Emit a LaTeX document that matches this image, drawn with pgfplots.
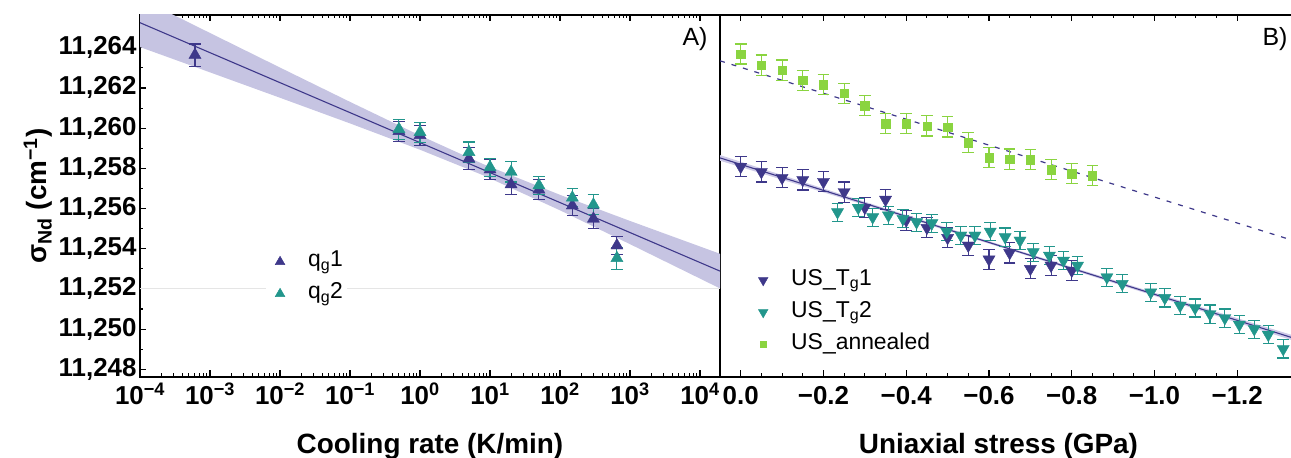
\documentclass[border=0pt]{standalone}
\usepackage{pgfplots}
\usepackage{pgfplotstable}
\pgfplotsset{compat=1.18}
\usepgfplotslibrary{fillbetween}
\usepackage{fontspec}
\setmainfont{Liberation Sans}
\definecolor{cPur}{RGB}{62,56,138}
\definecolor{cTeal}{RGB}{34,150,140}
\definecolor{cGreen}{RGB}{138,212,64}
\definecolor{cBand}{RGB}{198,196,226}
\definecolor{cBandB}{RGB}{206,202,232}

% NOTE: all sigma_Nd values below are stored as (value - 11250) cm^-1
% (avoids TeX floating point precision loss); tick labels show true values.
\pgfplotstableread{
x y e
6.1e-4 13.64 0.55
0.5 9.85 0.5
1 9.65 0.5
5 8.48 0.55
10 7.94 0.5
20 7.20 0.5
50 6.94 0.5
150 6.15 0.5
300 5.49 0.5
650 4.16 0.45
}\qgone
\pgfplotstableread{
x y e
0.5 9.95 0.5
1 9.80 0.5
5 8.81 0.5
10 8.06 0.45
20 7.82 0.5
50 7.15 0.45
150 6.54 0.45
300 6.19 0.5
650 3.53 0.55
}\qgtwo
\pgfplotstableread{
x up lo mid
1e-4 16.461 14.035 15.248
1e-3 14.736 12.776 13.756
1e-2 13.016 11.512 12.264
1e-1 11.308 10.236 10.772
1 9.634 8.926 9.280
7.94 8.216 7.658 7.937
100 6.681 5.911 6.296
1000 5.382 4.226 4.804
19307 3.748 2.024 2.886
}\fitA
\pgfplotstableread{
x y e
0 8.08 0.5
-0.05 7.82 0.5
-0.1 7.53 0.5
-0.15 7.42 0.5
-0.2 7.33 0.5
-0.25 6.82 0.5
-0.3 6.04 0.5
-0.35 6.44 0.5
-0.4 5.41 0.5
-0.45 5.04 0.5
-0.5 4.54 0.5
-0.55 4.16 0.5
-0.6 3.47 0.5
-0.65 3.79 0.5
-0.7 3.00 0.5
-0.75 3.16 0.5
-0.8 2.91 0.5
}\tgone
\pgfplotstableread{
x y e
-0.234 5.82 0.45
-0.284 6.04 0.45
-0.319 5.57 0.45
-0.357 5.66 0.45
-0.392 5.49 0.45
-0.425 5.32 0.45
-0.462 5.27 0.45
-0.498 4.85 0.45
-0.532 4.66 0.45
-0.566 4.66 0.45
-0.603 4.85 0.45
-0.639 4.58 0.45
-0.675 4.41 0.45
-0.707 3.83 0.45
-0.746 3.66 0.45
-0.780 3.41 0.45
-0.814 3.16 0.45
-0.885 2.58 0.45
-0.922 2.25 0.45
-0.991 1.83 0.45
-1.025 1.55 0.45
-1.062 1.17 0.45
-1.098 1.05 0.45
-1.134 0.75 0.45
-1.170 0.55 0.45
-1.205 0.22 0.45
-1.241 0.00 0.45
-1.275 -0.28 0.45
-1.311 -0.99 0.45
}\tgtwo
\pgfplotstableread{
x y e
0 13.69 0.5
-0.05 13.14 0.5
-0.1 12.89 0.5
-0.15 12.39 0.5
-0.2 12.17 0.5
-0.25 11.73 0.5
-0.3 11.11 0.5
-0.35 10.23 0.5
-0.4 10.23 0.5
-0.45 10.11 0.5
-0.5 10.06 0.5
-0.55 9.28 0.5
-0.6 8.53 0.5
-0.65 8.46 0.5
-0.7 8.43 0.5
-0.75 7.94 0.5
-0.8 7.74 0.5
-0.85 7.64 0.5
}\annealed
\pgfplotstableread{
x up lo mid
0.05 8.66 8.38 8.52
-0.3 6.335 6.175 6.255
-0.65 4.05 3.93 3.99
-1.0 1.81 1.65 1.73
-1.3347 -0.31 -0.57 -0.44
}\fitB
\pgfplotstableread{
x y
0.05 13.35
-1.3347 4.41
}\fitBdash

\pgfplotsset{
  common/.style={
    scale only axis, height=362bp,
    axis line style={line width=1.2bp},
    tick style={line width=1.1bp, black},
    major tick length=6.5bp, minor tick length=3.5bp,
    tick align=inside,
    ticklabel style={font=\fontsize{26}{26}\selectfont\bfseries},
    xticklabel style={text height=24bp, text depth=0bp},
    label style={font=\fontsize{28}{28}\selectfont\bfseries},
    xlabel style={at={(axis description cs:0.5,0)}, anchor=base, yshift=-76bp},
    ymin=-2.384, ymax=15.631,
    legend cell align=left,
    legend style={draw=none, fill=white, font=\fontsize{23}{23}\selectfont,
      inner xsep=2bp, inner ysep=2bp, row sep=4bp,
      nodes={inner sep=2bp, text height=17bp, text depth=7bp}},
    legend image code/.code={\path[draw=none, fill=none] (0bp,0bp) -- (38bp,0bp);
      \draw[##1, only marks, every mark/.append style={scale=0.8}] plot coordinates {(12bp,0bp)};},
  },
  ebar/.style={error bars/.cd, y dir=both, y explicit, error mark=|,
    error bar style={line width=1.1bp, solid},
    error mark options={mark size=5.8bp, line width=1.1bp, solid}},
}

\begin{document}
\begin{tikzpicture}
\begin{axis}[common, at={(140bp,81bp)}, anchor=south west, width=580bp,
  xmode=log, xmin=1e-4, xmax=19307,
  xtick={1e-4,1e-3,1e-2,1e-1,1,10,100,1000,10000},
  xticklabels={10\textsuperscript{−4},10\textsuperscript{−3},10\textsuperscript{−2},10\textsuperscript{−1},10\textsuperscript{0},10\textsuperscript{1},10\textsuperscript{2},10\textsuperscript{3},10\textsuperscript{4}},
  minor xtick={2e-4,3e-4,4e-4,5e-4,6e-4,7e-4,8e-4,9e-4,
    2e-3,3e-3,4e-3,5e-3,6e-3,7e-3,8e-3,9e-3,
    2e-2,3e-2,4e-2,5e-2,6e-2,7e-2,8e-2,9e-2,
    0.2,0.3,0.4,0.5,0.6,0.7,0.8,0.9,
    2,3,4,5,6,7,8,9,
    20,30,40,50,60,70,80,90,
    200,300,400,500,600,700,800,900,
    2000,3000,4000,5000,6000,7000,8000,9000},
  ytick={-2,0,2,4,6,8,10,12,14},
  yticklabels={{11,248},{11,250},{11,252},{11,254},{11,256},{11,258},{11,260},{11,262},{11,264}},
  minor y tick num=1,
  ytick pos=left,
  xlabel={Cooling rate (K/min)},
  ylabel={σ\textsubscript{Nd} (cm\textsuperscript{−1})},
  legend style={at={(0.217,0.363)}, anchor=north west},
]
\addplot[forget plot, color=black!10, line width=1bp] coordinates {(1e-4,2) (19307,2)};
\addplot[forget plot, draw=none, name path=aup] table[x=x, y=up] {\fitA};
\addplot[forget plot, draw=none, name path=alo] table[x=x, y=lo] {\fitA};
\addplot[forget plot, fill=cBand, draw=none] fill between[of=aup and alo];
\addplot[forget plot, cPur, line width=1.1bp] table[x=x, y=mid] {\fitA};
\addplot[cPur, only marks, mark=triangle*, mark size=7bp, ebar] table[x=x, y=y, y error=e] {\qgone};
\addlegendentry{q\textsubscript{g}1}
\addplot[cTeal, only marks, mark=triangle*, mark size=7bp, ebar] table[x=x, y=y, y error=e] {\qgtwo};
\addlegendentry{q\textsubscript{g}2}
\end{axis}

\begin{axis}[common, at={(720bp,81bp)}, anchor=south west, width=573bp,
  x dir=reverse, xmin=-1.3347, xmax=0.05,
  xtick={0,-0.2,-0.4,-0.6,-0.8,-1.0,-1.2},
  xticklabels={0.0,−0.2,−0.4,−0.6,−0.8,−1.0,−1.2},
  minor x tick num=3,
  ytick=\empty,
  xlabel={Uniaxial stress (GPa)},
  xlabel style={xshift=-8bp},
  legend style={at={(0.0506,0.312)}, anchor=north west},
]
\addplot[forget plot, draw=none, name path=bup] table[x=x, y=up] {\fitB};
\addplot[forget plot, draw=none, name path=blo] table[x=x, y=lo] {\fitB};
\addplot[forget plot, fill=cBandB, draw=none] fill between[of=bup and blo];
\addplot[forget plot, cPur, line width=1.1bp] table[x=x, y=mid] {\fitB};
\addplot[forget plot, cPur, line width=1.2bp, dash pattern=on 5bp off 7bp] table[x=x, y=y] {\fitBdash};
\addplot[cPur, only marks, mark=triangle*, mark size=7bp, mark options={rotate=180}, ebar] table[x=x, y=y, y error=e] {\tgone};
\addlegendentry{US\_T\textsubscript{g}1}
\addplot[cTeal, only marks, mark=triangle*, mark size=7bp, mark options={rotate=180}, ebar] table[x=x, y=y, y error=e] {\tgtwo};
\addlegendentry{US\_T\textsubscript{g}2}
\addplot[cGreen, only marks, mark=square*, mark size=4.2bp, ebar] table[x=x, y=y, y error=e] {\annealed};
\addlegendentry{US\_annealed}
\end{axis}

\node[anchor=east, font=\fontsize{25}{25}\selectfont] at (711bp,419bp) {A)};
\node[anchor=east, font=\fontsize{25}{25}\selectfont] at (1291bp,419bp) {B)};
\pgfresetboundingbox
\path[use as bounding box] (0bp,0bp) rectangle (1291bp,458bp);
\end{tikzpicture}
\end{document}
